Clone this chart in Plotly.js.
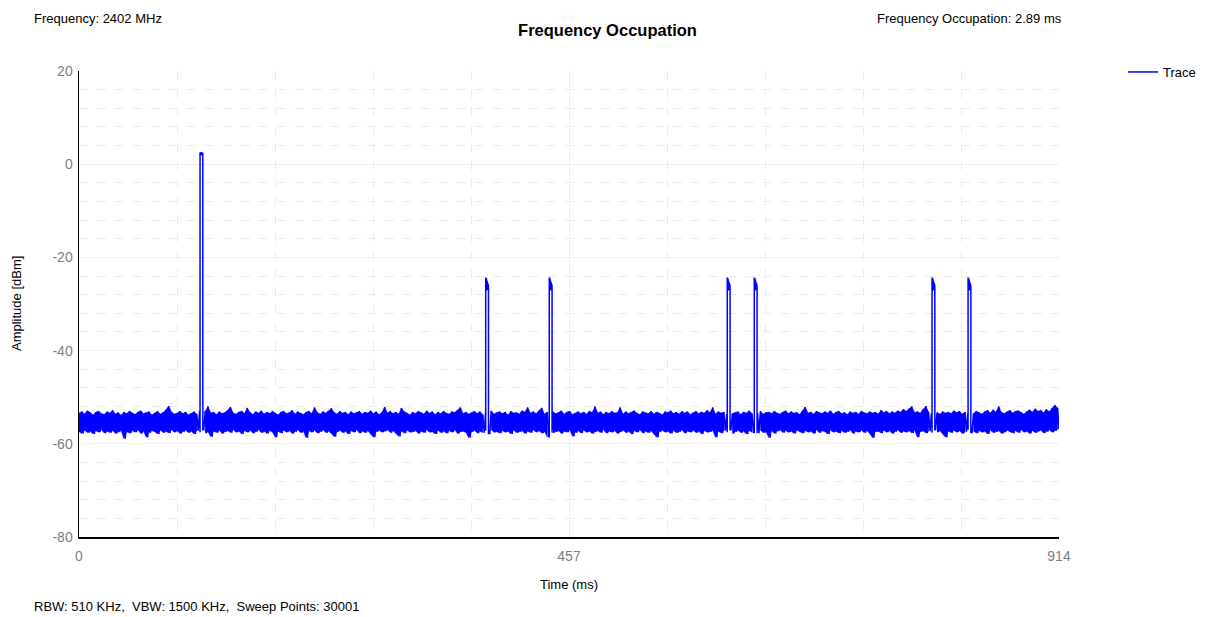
<!DOCTYPE html>
<html>
<head>
<meta charset="utf-8">
<script src="https://cdn.plot.ly/plotly-3.0.1.min.js"></script>
<style>html,body{margin:0;padding:0;background:#fff;}#chart{width:1208px;height:617px;}</style>
</head>
<body>
<div id="chart"></div>
<script>
// ---- data ----
const sweepSpan = 914;            // ms
const xTickVals = [0, 457, 914];
const yTickVals = [20, 0, -20, -40, -60, -80];

// upper envelope of the noise floor (dBm), left to right
const noiseUpper = [
-53.4,-53.1,-53.6,-52.9,-53.3,-53.8,-53.2,-53.0,-53.5,-53.7,
-53.1,-53.4,-52.8,-53.6,-53.3,-53.9,-53.2,-53.5,-53.0,-53.4,
-53.7,-53.2,-52.9,-53.5,-53.3,-53.1,-53.8,-53.4,-53.0,-53.6,
-53.3,-52.7,-51.9,-53.2,-53.6,-53.4,-53.0,-53.5,-53.2,-53.8,
-53.4,-53.1,-53.6,-52.9,-53.3,-53.0,-52.0,-53.4,-53.2,-53.7,
-53.1,-53.5,-53.3,-52.8,-52.1,-53.4,-53.6,-53.2,-53.0,-53.5,
-52.3,-53.3,-53.7,-53.1,-53.4,-52.9,-53.6,-53.2,-53.5,-53.0,
-53.4,-53.8,-53.2,-53.0,-53.5,-53.3,-52.8,-53.6,-53.1,-53.4,
-53.7,-53.2,-53.0,-53.5,-52.2,-53.3,-53.6,-53.1,-53.4,-52.9,
-52.4,-53.3,-53.6,-53.0,-53.4,-53.2,-53.7,-53.1,-53.5,-53.3,
-53.0,-53.6,-53.2,-53.4,-52.9,-53.5,-53.1,-53.7,-53.3,-52.1,
-53.4,-53.0,-53.5,-53.2,-53.6,-52.3,-53.1,-53.4,-53.8,-53.2,
-53.5,-53.0,-53.3,-53.6,-52.9,-53.4,-53.1,-53.7,-53.2,-53.5,
-53.0,-53.4,-53.6,-53.1,-53.3,-52.8,-52.2,-53.5,-53.2,-53.6,
-53.3,-53.0,-53.5,-53.1,-53.7,-53.2,-53.4,-52.9,-53.6,-53.3,
-53.1,-53.5,-53.2,-53.8,-53.0,-53.4,-53.3,-53.6,-52.9,-53.2,
-52.2,-53.4,-53.1,-53.5,-53.0,-52.3,-53.6,-53.2,-53.4,-53.1,
-53.5,-53.3,-52.9,-53.6,-53.2,-53.0,-53.7,-53.4,-53.1,-53.5,
-53.2,-53.6,-53.0,-53.3,-52.0,-53.4,-53.1,-53.7,-53.2,-53.5,
-53.0,-53.4,-53.3,-52.2,-53.6,-53.1,-53.5,-53.2,-52.9,-53.4,
-53.7,-53.1,-53.3,-53.5,-53.0,-53.6,-53.2,-53.4,-53.8,-53.1,
-53.3,-52.9,-53.5,-53.2,-53.6,-53.0,-53.4,-53.1,-53.7,-53.3,
-53.0,-53.5,-53.2,-53.4,-52.8,-53.3,-52.2,-53.6,-53.1,-53.4,
-53.2,-53.6,-53.0,-53.5,-53.3,-53.1,-53.7,-53.2,-53.4,-52.9,
-53.5,-53.1,-53.4,-53.0,-53.6,-53.3,-53.2,-53.5,-53.0,-53.4,
-53.6,-53.2,-52.9,-53.5,-53.1,-53.4,-53.3,-53.7,-53.0,-52.1,
-53.4,-53.2,-53.6,-53.0,-53.3,-53.5,-53.1,-53.4,-52.9,-53.6,
-53.2,-53.0,-53.5,-53.3,-53.7,-53.1,-53.4,-53.2,-53.6,-53.0,
-53.3,-53.5,-53.1,-53.4,-53.2,-53.6,-52.8,-53.3,-53.0,-53.5,
-53.1,-53.4,-52.9,-53.2,-52.6,-53.0,-52.5,-52.0,-53.3,-53.1,
-53.4,-52.6,-51.9,-53.2,-53.5,-53.0,-53.3,-53.6,-53.1,-53.4,
-53.2,-53.5,-52.9,-53.3,-53.0,-53.6,-53.2,-53.4,-53.1,-53.5,
-53.0,-53.3,-53.6,-53.1,-52.8,-53.4,-52.7,-53.2,-52.0,-53.3,
-53.5,-53.1,-52.8,-53.4,-53.0,-52.9,-53.3,-53.6,-53.1,-52.7,
-53.2,-52.5,-53.0,-52.8,-53.3,-52.6,-53.1,-52.4,-51.7,-52.3
];
// lower envelope of the noise floor (dBm), left to right
const noiseLower = [
-57.4,-57.8,-57.1,-57.6,-57.3,-57.9,-57.2,-57.5,-57.0,-57.7,
-57.3,-57.6,-57.2,-57.8,-57.5,-57.1,-58.9,-57.4,-57.7,-57.2,
-57.5,-57.0,-57.8,-57.3,-58.6,-57.6,-57.2,-57.4,-57.9,-57.1,
-57.6,-57.3,-57.7,-57.0,-57.5,-57.2,-57.8,-57.4,-57.1,-57.6,
-57.3,-57.9,-57.2,-57.5,-57.0,-57.7,-57.4,-58.5,-57.3,-57.6,
-57.1,-57.8,-57.4,-57.2,-57.6,-57.0,-57.5,-57.3,-57.9,-57.2,
-57.5,-57.1,-57.7,-57.4,-57.0,-57.6,-57.3,-57.8,-57.2,-57.5,
-58.6,-57.3,-57.7,-57.1,-57.5,-57.2,-57.8,-57.4,-57.0,-57.6,
-57.3,-58.7,-57.2,-57.5,-57.1,-57.7,-57.4,-57.0,-57.6,-57.3,
-57.8,-58.5,-57.4,-57.1,-57.6,-57.3,-57.9,-57.2,-57.5,-57.0,
-57.7,-57.3,-57.6,-57.2,-57.8,-58.6,-57.4,-57.1,-57.5,-57.3,
-57.0,-57.6,-57.2,-57.8,-58.4,-57.3,-57.7,-57.1,-57.5,-57.4,
-57.2,-57.8,-57.3,-57.6,-57.0,-57.5,-57.4,-57.9,-57.1,-57.6,
-57.3,-57.7,-57.2,-57.5,-57.0,-57.8,-57.4,-57.3,-57.6,-58.7,
-57.4,-57.1,-57.7,-57.3,-57.6,-57.2,-57.8,-57.0,-57.5,-57.4,
-57.7,-57.2,-57.5,-57.3,-57.9,-57.1,-57.6,-57.4,-57.2,-57.8,
-57.3,-57.6,-57.0,-57.5,-57.2,-57.7,-57.4,-58.5,-57.1,-57.6,
-57.4,-57.2,-57.8,-57.3,-57.5,-57.0,-58.4,-57.6,-57.2,-57.7,
-57.1,-57.5,-57.3,-57.8,-57.4,-57.2,-57.6,-57.0,-57.7,-57.3,
-57.5,-57.2,-57.8,-57.4,-57.1,-57.6,-57.3,-57.9,-57.2,-57.5,
-57.0,-57.7,-57.3,-57.6,-57.2,-57.8,-58.6,-57.4,-57.1,-57.5,
-57.3,-57.8,-57.2,-57.6,-57.4,-57.0,-57.7,-57.3,-57.5,-57.1,
-57.6,-57.3,-57.9,-57.2,-57.5,-57.4,-57.1,-58.6,-57.3,-57.7,
-57.2,-57.5,-57.0,-57.8,-57.4,-57.1,-57.6,-57.3,-57.9,-57.2,
-57.5,-57.3,-57.7,-57.1,-57.6,-57.4,-58.7,-57.2,-57.8,-57.3,
-57.0,-57.6,-57.2,-57.5,-57.3,-57.8,-57.1,-57.4,-57.7,-57.2,
-57.5,-57.3,-57.8,-57.0,-57.6,-57.2,-57.4,-57.9,-57.1,-57.5,
-57.3,-57.7,-57.2,-57.6,-57.4,-57.0,-57.8,-57.3,-57.5,-57.1,
-57.6,-57.2,-57.8,-58.7,-57.4,-57.3,-57.7,-57.1,-57.5,-57.2,
-57.8,-57.4,-57.0,-57.6,-57.3,-57.5,-57.2,-57.7,-57.1,-58.6,
-57.4,-57.2,-57.7,-57.3,-57.6,-57.0,-57.5,-57.2,-57.8,-58.6,
-57.3,-57.6,-57.1,-57.5,-57.2,-57.8,-57.4,-57.0,-57.6,-57.3,
-57.7,-57.2,-57.5,-57.3,-57.9,-57.1,-57.6,-57.4,-57.2,-57.8,
-57.5,-57.1,-57.4,-57.7,-57.2,-57.6,-57.0,-57.5,-57.3,-57.8,
-57.2,-57.6,-57.3,-57.1,-57.7,-57.4,-57.0,-57.5,-57.2,-56.9
];

// pulses (bursts) found on the trace
const pulseStart = [112.9, 379.3, 438.6, 604.6, 629.8, 795.6, 829.2]; // ms
const pulseWidth = [2.6, 2.6, 2.6, 2.6, 2.6, 2.6, 2.6];               // ms
const strongTop = [2.5, 2.0, 2.6, 2.1, 2.4, 1.9, 2.5, 2.2];            // dBm
const weakTop = [-24.3, -26.4, -24.6, -27.2, -24.5, -26.8, -24.9, -27.0,
                 -25.1, -26.5, -25.4, -26.9, -25.6, -26.2, -25.8, -26.4]; // dBm
const pulseTop = [strongTop, weakTop, weakTop, weakTop, weakTop, weakTop, weakTop];

// ---- build the trace ----
const noiseY = [];
for (let k = 0; k < noiseUpper.length; k++) { noiseY.push(noiseUpper[k]); noiseY.push(noiseLower[k]); }
const M = noiseY.length;
const noiseX = noiseY.map((_, i) => i * sweepSpan / (M - 1));

function inPulse(t, pad) {
  for (let q = 0; q < pulseStart.length; q++) {
    if (t > pulseStart[q] - pad && t < pulseStart[q] + pulseWidth[q] + pad) return true;
  }
  return false;
}

const X = [], Y = [];
let p = 0;
for (let i = 0; i < M; i++) {
  const t = noiseX[i];
  while (p < pulseStart.length && t >= pulseStart[p]) {
    const s = pulseStart[p], w = pulseWidth[p], top = pulseTop[p];
    const prevLow = noiseLower[Math.max(0, Math.floor((i - 1) / 2))];
    X.push(s); Y.push(prevLow);
    for (let j = 0; j < top.length; j++) { X.push(s + j * w / (top.length - 1)); Y.push(top[j]); }
    const nextLow = noiseLower[Math.min(noiseLower.length - 1, Math.floor(i / 2) + 1)];
    X.push(s + w); Y.push(nextLow);
    p++;
  }
  if (!inPulse(t, 0)) { X.push(t); Y.push(noiseY[i]); }
}

// solid noise band between the envelopes, broken at each burst
const bandX = [], bandY = [];
let seg = [];
function flushSeg() {
  if (seg.length > 1) {
    seg.forEach(k => { bandX.push(noiseX[2 * k]); bandY.push(noiseUpper[k]); });
    for (let m = seg.length - 1; m >= 0; m--) { bandX.push(noiseX[2 * seg[m]]); bandY.push(noiseLower[seg[m]]); }
    bandX.push(null); bandY.push(null);
  }
  seg = [];
}
for (let k = 0; k < noiseUpper.length; k++) {
  if (inPulse(noiseX[2 * k], 0.7)) flushSeg(); else seg.push(k);
}
flushSeg();

const FONT = 'Liberation Sans, Arial, sans-serif';
const band = {
  x: bandX, y: bandY, type: 'scatter', mode: 'lines', fill: 'toself',
  fillcolor: '#0000ff', line: {color: '#0000ff', width: 0.5}, showlegend: false, hoverinfo: 'skip'
};
const trace = {
  x: X, y: Y, type: 'scatter', mode: 'lines', name: 'Trace',
  line: {color: '#0000ff', width: 1.5, simplify: false}
};

const axisCommon = {
  showgrid: true, gridcolor: '#efefef', gridwidth: 1,
  zeroline: false, showline: true, linecolor: '#000', linewidth: 1.5,
  ticks: 'outside', tickcolor: 'rgba(0,0,0,0)',
  tickfont: {family: FONT, size: 14, color: '#808080'},
  fixedrange: true
};

const layout = {
  width: 1208, height: 617,
  margin: {l: 79, r: 149, t: 71, b: 80, pad: 0, autoexpand: false},
  paper_bgcolor: '#fff', plot_bgcolor: '#fff',
  font: {family: FONT, color: '#000'},
  title: {text: '<b>Frequency Occupation</b>', font: {family: FONT, size: 16.5, color: '#000'},
          x: 607.5 / 1208, xref: 'container', xanchor: 'center', y: 1 - 30 / 617, yref: 'container', yanchor: 'middle'},
  xaxis: Object.assign({}, axisCommon, {
    range: [0, sweepSpan], tickmode: 'array', tickvals: xTickVals, ticktext: xTickVals.map(String), ticklen: 6,
    minor: {tickmode: 'linear', tick0: 0, dtick: sweepSpan / 10, showgrid: true, gridcolor: '#ececec', griddash: 'dash', gridwidth: 1, ticks: ''}
  }),
  yaxis: Object.assign({}, axisCommon, {
    range: [-80, 20], tickmode: 'array', tickvals: yTickVals, ticktext: yTickVals.map(String), ticklen: 2,
    minor: {tickmode: 'linear', tick0: 0, dtick: 4, showgrid: true, gridcolor: '#ececec', griddash: 'dash', gridwidth: 1, ticks: ''}
  }),
  showlegend: true,
  legend: {x: (1123 - 79) / 980, xanchor: 'left', y: 1 + 14 / 466, yanchor: 'top',
           font: {family: FONT, size: 13, color: '#000'}, bgcolor: 'rgba(0,0,0,0)', borderwidth: 0},
  annotations: [
    {text: 'Frequency: 2402 MHz', xref: 'paper', yref: 'paper', x: (32 - 79) / 980, y: (537 - 18) / 466,
     xanchor: 'left', yanchor: 'middle', showarrow: false, font: {family: FONT, size: 13, color: '#000'}},
    {text: 'Frequency Occupation: 2.89 ms', xref: 'paper', yref: 'paper', x: (1064 - 79) / 980, y: (537 - 19) / 466,
     xanchor: 'right', yanchor: 'middle', showarrow: false, font: {family: FONT, size: 13, color: '#000'}},
    {text: 'RBW: 510 KHz,&nbsp; VBW: 1500 KHz,&nbsp; Sweep Points: 30001', xref: 'paper', yref: 'paper', x: (32 - 79) / 980, y: (537 - 606) / 466,
     xanchor: 'left', yanchor: 'middle', showarrow: false, font: {family: FONT, size: 13, color: '#000'}},
    {text: 'Time (ms)', xref: 'paper', yref: 'paper', x: 0.5, y: (537 - 584) / 466,
     xanchor: 'center', yanchor: 'middle', showarrow: false, font: {family: FONT, size: 13, color: '#000'}},
    {text: 'Amplitude [dBm]', xref: 'paper', yref: 'paper', x: (16 - 79) / 980, y: 0.5, textangle: -90,
     xanchor: 'center', yanchor: 'middle', showarrow: false, font: {family: FONT, size: 13, color: '#000'}}
  ]
};

Plotly.newPlot('chart', [band, trace], layout, {displayModeBar: false, staticPlot: true});
</script>
</body>
</html>
